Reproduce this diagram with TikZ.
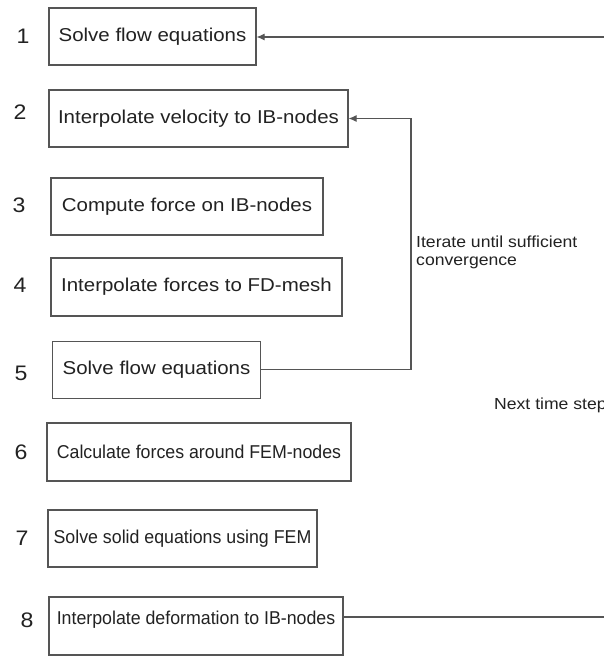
\documentclass[tikz,border=0pt]{standalone}
\usepackage{fontspec}
\setmainfont{Liberation Sans}[FakeStretch=1.1]
\newfontfamily\condfont{Liberation Sans}[FakeStretch=0.955]
\usetikzlibrary{arrows.meta}
\definecolor{linegray}{HTML}{555555}
\definecolor{txt}{HTML}{222222}
\begin{document}
\begin{tikzpicture}[x=1pt,y=-1pt,
  stepbox/.style={draw=linegray, line width=1.1pt, inner sep=0pt, text=txt,
    font=\fontsize{18.6}{22}\selectfont},
  condbox/.style={stepbox, font=\condfont\fontsize{18.6}{22}\selectfont},
  num/.style={text=txt, font=\fontsize{21}{24}\selectfont, inner sep=0pt},
  note/.style={text=txt, font=\fontsize{16}{18}\selectfont, inner sep=0pt, align=left, anchor=west},
  conn/.style={draw=linegray, line width=1.1pt},
  arr/.style={conn, -{Latex[length=8pt,width=7pt]}}]
\useasboundingbox (0,0) rectangle (604,656);
\clip (0,0) rectangle (604,656);
\fill[white] (0,0) rectangle (604,656);
\node[stepbox, minimum width=207pt, minimum height=57pt] (b1) at (152.5,36.5) {Solve flow equations};
\node[stepbox, minimum width=299pt, minimum height=57pt] (b2) at (198.5,118.5) {Interpolate velocity to IB-nodes};
\node[stepbox, minimum width=272pt, minimum height=57pt] (b3) at (187,206.5) {Compute force on IB-nodes};
\node[stepbox, minimum width=291pt, minimum height=58pt] (b4) at (196.5,287) {Interpolate forces to FD-mesh};
\node[stepbox, minimum width=208pt, minimum height=57pt] (b5) at (156.5,370) {\raisebox{-5pt}{Solve flow equations}};
\node[condbox, minimum width=304pt, minimum height=58pt] (b6) at (199,452) {Calculate forces around FEM-nodes};
\node[condbox, minimum width=269pt, minimum height=57pt] (b7) at (182.5,538.5) {Solve solid equations using FEM};
\node[condbox, minimum width=294pt, minimum height=58pt] (b8) at (196,626) {\raisebox{17pt}{Interpolate deformation to IB-nodes}};
\node[num] (n1) at (23,36) {1};
\node[num] (n2) at (20,112) {2};
\node[num] (n3) at (19,205) {3};
\node[num] (n4) at (20,285) {4};
\node[num] (n5) at (21,373) {5};
\node[num] (n6) at (21,452) {6};
\node[num] (n7) at (22,538) {7};
\node[num] (n8) at (27,620) {8};
\node[note] (it) at (416,252) {Iterate until sufficient\\convergence};
\node[note] (nt) at (494,405) {Next time step};
\coordinate (r5) at (411,369.5);
\coordinate (r2) at (411,118.5);
\draw[arr] (b5.east |- r5) -- (r5) -- (r2) -- (b2.east);
\coordinate (r8) at (640,617);
\coordinate (r1) at (640,37);
\draw[arr] (b8.east |- r8) -- (r8) -- (r1) -- (b1.east |- r1);
\end{tikzpicture}
\end{document}
